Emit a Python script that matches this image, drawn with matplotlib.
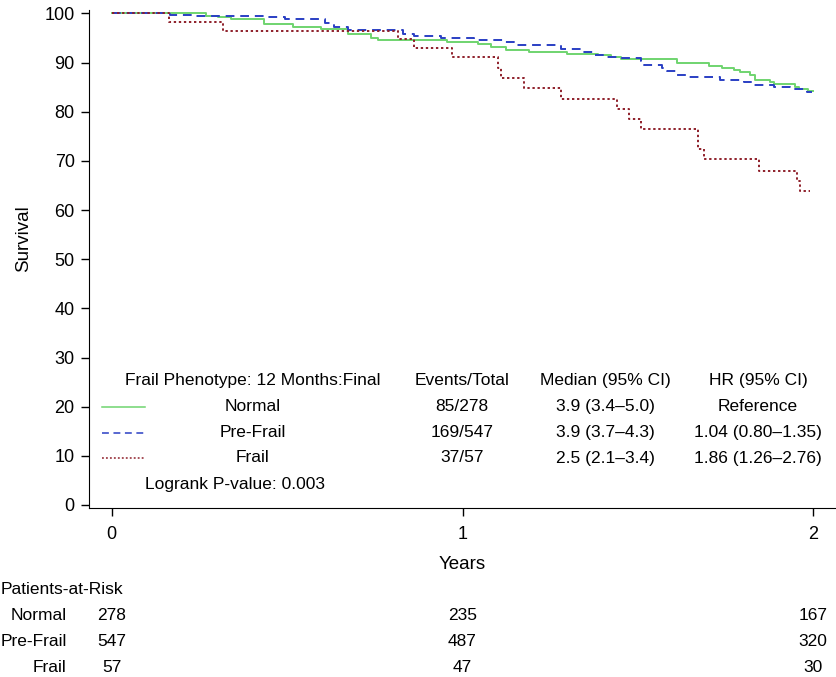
import numpy as np
import matplotlib
matplotlib.use("Agg")
import matplotlib.pyplot as plt
from matplotlib.lines import Line2D
from matplotlib.transforms import blended_transform_factory

plt.rcParams['font.family'] = ['Liberation Sans', 'DejaVu Sans']

###### DATA ######

# Kaplan-Meier steps (years, survival %)
normal_t = [0, 0.270, 0.303, 0.341, 0.433, 0.517, 0.597, 0.673, 0.740, 0.759,
            0.956, 1.043, 1.081, 1.124, 1.190, 1.299, 1.385, 1.422, 1.451, 1.612,
            1.702, 1.740, 1.773, 1.792, 1.821, 1.835, 1.878, 1.887, 1.949, 1.958,
            1.985, 2.0]
normal_s = [100, 99.5, 99.3, 98.9, 97.8, 97.3, 96.8, 95.8, 95.1, 94.6,
            94.1, 93.8, 93.2, 92.6, 92.1, 91.7, 91.5, 91.2, 90.7, 90.0,
            89.4, 88.9, 88.5, 88.0, 87.5, 86.5, 86.1, 85.6, 85.1, 84.6,
            84.2, 84.2]

prefrail_t = [0, 0.166, 0.237, 0.446, 0.493, 0.607, 0.635, 0.673, 0.830, 0.863,
              0.939, 1.034, 1.119, 1.147, 1.280, 1.337, 1.375, 1.413, 1.451, 1.508,
              1.517, 1.569, 1.584, 1.612, 1.641, 1.735, 1.802, 1.826, 1.887, 1.935,
              1.982, 1.996]
prefrail_s = [100, 99.7, 99.5, 99.2, 98.9, 98.0, 97.3, 96.6, 95.8, 95.5,
              95.1, 94.6, 94.1, 93.6, 92.8, 92.1, 91.6, 91.2, 90.9, 90.4,
              89.6, 89.0, 88.2, 87.5, 87.1, 86.5, 86.0, 85.5, 85.0, 84.6,
              84.1, 84.1]

frail_t = [0, 0.163, 0.316, 0.816, 0.863, 0.969, 1.100, 1.110, 1.174, 1.282,
           1.441, 1.475, 1.510, 1.672, 1.688, 1.844, 1.954, 1.963, 1.99]
frail_s = [100, 98.2, 96.5, 94.7, 92.9, 91.2, 88.8, 86.9, 84.8, 82.6,
           80.6, 78.5, 76.5, 72.4, 70.3, 68.0, 65.9, 63.9, 63.9]

groups = ["Normal", "Pre-Frail", "Frail"]
events = ["85/278", "169/547", "37/57"]
medians = ["3.9 (3.4\u20135.0)", "3.9 (3.7\u20134.3)", "2.5 (2.1\u20133.4)"]
hrs = ["Reference", "1.04 (0.80\u20131.35)", "1.86 (1.26\u20132.76)"]
logrank = "Logrank P-value: 0.003"

risk_times = [0, 1, 2]
at_risk = {"Normal": [278, 235, 167],
           "Pre-Frail": [547, 487, 320],
           "Frail": [57, 47, 30]}

colors = ["#6fd46f", "#2a3fc4", "#8e1f2a"]
styles = ["-", (0, (4.5, 3)), (0, (1.2, 1.4))]

###### PLOT ######

W, H = 837, 677
def fx(px):
    return px / W
def fy(py):
    return 1 - py / H

fig = plt.figure(figsize=(W / 100, H / 100), dpi=100)
ax = fig.add_axes([fx(89.3), fy(507.7), fx(835) - fx(89.3), fy(10) - fy(507.7)])

curves = [(normal_t, normal_s), (prefrail_t, prefrail_s), (frail_t, frail_s)]
for (t, s), c, ls in zip(curves, colors, styles):
    ax.step(t, s, where="post", color=c, linestyle=ls, lw=1.4)

ax.set_xlim(-0.064, 2.062)
ax.set_ylim(-0.55, 100.7)
ax.set_xticks([0, 1, 2])
ax.set_yticks(np.arange(0, 101, 10))
ax.tick_params(labelsize=13, length=5.5, width=1, pad=5)
ax.tick_params(axis="x", pad=8)
for side in ["top", "right"]:
    ax.spines[side].set_visible(False)
ax.set_xlabel("Years", fontsize=13.5, labelpad=9)
ax.set_ylabel("Survival", fontsize=13.5)
ax.yaxis.set_label_coords(fx(32), 0.54,
                          transform=blended_transform_factory(fig.transFigure, ax.transAxes))

# in-plot table
fs = 12.5
rows_y = [406.5, 432.5, 458]
fig.text(fx(253), fy(381), "Frail Phenotype: 12 Months:Final", ha="center", va="center", fontsize=fs)
fig.text(fx(462), fy(381), "Events/Total", ha="center", va="center", fontsize=fs)
fig.text(fx(605), fy(381), "Median (95% CI)", ha="center", va="center", fontsize=fs)
fig.text(fx(758), fy(381), "HR (95% CI)", ha="center", va="center", fontsize=fs)
for i, yy in enumerate(rows_y):
    fig.add_artist(Line2D([fx(102), fx(145)], [fy(yy), fy(yy)], color=colors[i],
                          linestyle=styles[i], lw=1.1))
    fig.text(fx(253), fy(yy), groups[i], ha="center", va="center", fontsize=fs)
    fig.text(fx(462), fy(yy), events[i], ha="center", va="center", fontsize=fs)
    fig.text(fx(605), fy(yy), medians[i], ha="center", va="center", fontsize=fs)
    fig.text(fx(758), fy(yy), hrs[i], ha="center", va="center", fontsize=fs)
fig.text(fx(145), fy(485), logrank, ha="left", va="center", fontsize=fs)

# patients-at-risk table
tr = blended_transform_factory(ax.transData, fig.transFigure)
fig.text(fx(1), fy(590), "Patients-at-Risk", ha="left", va="center", fontsize=fs)
for yy, g in zip([616, 641.5, 667], groups):
    fig.text(fx(66.5), fy(yy), g, ha="right", va="center", fontsize=fs)
    for t, n in zip(risk_times, at_risk[g]):
        ax.text(t, fy(yy), str(n), transform=tr, ha="center", va="center", fontsize=fs)

fig.savefig("out.png", dpi=100)
